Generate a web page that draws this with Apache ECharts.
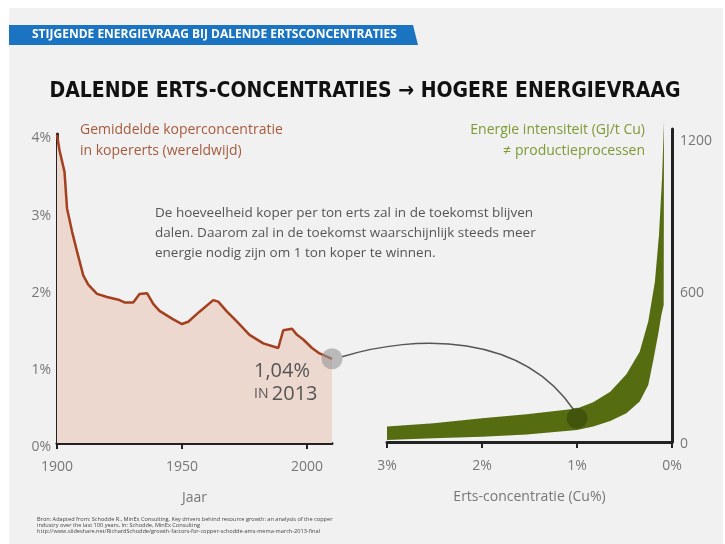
<!DOCTYPE html>
<html>
<head>
<meta charset="utf-8"/>
<script src="https://cdn.jsdelivr.net/npm/echarts@6/dist/echarts.min.js"></script>
<style>
  html, body { margin: 0; padding: 0; background: #fff; }
  #container { width: 725px; height: 544px; }
</style>
</head>
<body>
<div id="container"></div>
<script>
// left chart: average copper ore grade (%) per year
var years = [1900, 1901, 1903, 1904, 1906, 1908, 1910.5, 1912.5, 1916, 1920, 1925, 1927, 1930.5, 1933, 1936,
  1938.5, 1941, 1946.5, 1950, 1952.5, 1957, 1962.5, 1964.5, 1968, 1972, 1977, 1982.5, 1988.5, 1990.5, 1994,
  1996, 1998.5, 2002, 2005, 2010];
var oreGrade = [3.99, 3.79, 3.51, 3.04, 2.74, 2.48, 2.17, 2.05, 1.93, 1.89, 1.85, 1.82, 1.82, 1.93, 1.94,
  1.80, 1.71, 1.60, 1.54, 1.57, 1.70, 1.85, 1.83, 1.70, 1.57, 1.40, 1.29, 1.23, 1.46, 1.48,
  1.40, 1.34, 1.23, 1.16, 1.09];
var yearTicks = [1900, 1950, 2000];
var gradeTicks = [0, 1, 2, 3, 4];

// right chart: energy intensity band (GJ/t Cu) versus ore grade (%)
var upperConc   = [3.0, 2.51, 2.0, 1.53, 1.0, 0.83, 0.65, 0.48, 0.34, 0.25, 0.18, 0.137, 0.105, 0.084];
var upperEnergy = [61, 74, 94, 110, 133, 157, 199, 268, 358, 477, 635, 820, 1044, 1269];
var lowerConc   = [3.0, 2.51, 2.0, 1.53, 1.0, 0.83, 0.65, 0.48, 0.34, 0.25, 0.20, 0.147, 0.112, 0.0875];
var lowerEnergy = [8, 15, 21, 30, 48, 61, 83, 114, 160, 226, 318, 424, 503, 543];
var concTicks = [3, 2, 1, 0];
var energyTicks = [0, 600, 1200];
var markConc = 1.0, markEnergy = 94;

var labelColor = '#777';
var baseFont = '"Open Sans", sans-serif';

var myChart = echarts.init(document.getElementById('container'));

var option = {
  animation: false,
  backgroundColor: '#ffffff',
  textStyle: { fontFamily: baseFont },
  grid: [
    { left: 57, top: 134, width: 275, height: 309 },
    { left: 387, top: 129, width: 285, height: 313 }
  ],
  xAxis: [{
    gridIndex: 0, type: 'value', min: 1900, max: 2010,
    name: 'Jaar', nameLocation: 'middle', nameGap: 48,
    nameTextStyle: { color: labelColor, fontSize: 14, fontFamily: baseFont },
    axisLine: { lineStyle: { color: '#222', width: 3 } },
    axisTick: { show: true, inside: false, length: 6, lineStyle: { color: '#222', width: 2 }, customValues: yearTicks },
    axisLabel: { color: labelColor, fontSize: 14, margin: 17, customValues: yearTicks,
      formatter: function (v) { return String(v); } },
    splitLine: { show: false }
  }, {
    gridIndex: 1, type: 'value', min: 0, max: 3, inverse: true,
    name: 'Erts-concentratie (Cu%)', nameLocation: 'middle', nameGap: 48,
    nameTextStyle: { color: labelColor, fontSize: 14, fontFamily: baseFont },
    axisLine: { lineStyle: { color: '#222', width: 3 } },
    axisTick: { show: true, length: 6, lineStyle: { color: '#222', width: 2 }, customValues: concTicks },
    axisLabel: { color: labelColor, fontSize: 14, margin: 17, customValues: concTicks,
      formatter: function (v) { return v + '%'; } },
    splitLine: { show: false }
  }],
  yAxis: [{
    gridIndex: 0, type: 'value', min: 0, max: 4,
    axisLine: { show: true, lineStyle: { color: '#222', width: 3 } },
    axisTick: { show: false },
    axisLabel: { color: labelColor, fontSize: 14, margin: 6, customValues: gradeTicks,
      formatter: function (v) { return '{p|' + v + '%}'; },
      rich: { p: { color: labelColor, fontSize: 14, fontFamily: baseFont, padding: [9, 0, 0, 0] } } },
    splitLine: { show: false }
  }, {
    gridIndex: 1, type: 'value', min: 0, max: 1240, position: 'right',
    axisLine: { show: true, lineStyle: { color: '#222', width: 3 } },
    axisTick: { show: false },
    axisLabel: { color: labelColor, fontSize: 14, margin: 8, customValues: energyTicks,
      formatter: function (v) { return '{p|' + v + '}'; },
      rich: { p: { color: labelColor, fontSize: 14, fontFamily: baseFont, padding: [4, 0, 0, 0] } } },
    splitLine: { show: false }
  }],
  series: [{
    name: 'koperconcentratie',
    type: 'line',
    xAxisIndex: 0, yAxisIndex: 0,
    data: years.map(function (y, i) { return [y, oreGrade[i]]; }),
    symbol: 'none',
    lineStyle: { color: '#a3401d', width: 2.5 },
    areaStyle: { color: '#ecd8cf', opacity: 1 },
    z: 2
  }, {
    name: 'energieband',
    type: 'custom',
    xAxisIndex: 1, yAxisIndex: 1,
    silent: true,
    data: [[upperConc[0], upperEnergy[0]]],
    renderItem: function (params, api) {
      var pts = [];
      for (var i = 0; i < upperConc.length; i++) pts.push(api.coord([upperConc[i], upperEnergy[i]]));
      for (var j = lowerConc.length - 1; j >= 0; j--) pts.push(api.coord([lowerConc[j], lowerEnergy[j]]));
      return { type: 'polygon', shape: { points: pts }, style: { fill: '#556d10' } };
    },
    z: 2
  }, {
    name: 'punt-links',
    type: 'scatter',
    xAxisIndex: 0, yAxisIndex: 0,
    data: [[years[years.length - 1], oreGrade[oreGrade.length - 1]]],
    symbolSize: 21,
    itemStyle: { color: 'rgba(150,150,150,0.75)' },
    silent: true,
    z: 5
  }, {
    name: 'punt-rechts',
    type: 'scatter',
    xAxisIndex: 1, yAxisIndex: 1,
    data: [[markConc, markEnergy]],
    symbolSize: 21,
    itemStyle: { color: '#3e4f0c' },
    silent: true,
    z: 5
  }],
  graphic: [
    { type: 'rect', z: -10, shape: { x: 9, y: 8, width: 714, height: 536 }, style: { fill: '#f1f1f1' } },
    { type: 'polygon', z: 1, shape: { points: [[9, 25], [413, 25], [418, 45], [9, 45]] }, style: { fill: '#1b74c1' } },
    { type: 'text', z: 2, x: 32, y: 35,
      style: { text: 'STIJGENDE ENERGIEVRAAG BIJ DALENDE ERTSCONCENTRATIES', fill: '#fff',
        font: 'bold 12px "Open Sans", sans-serif', verticalAlign: 'middle' } },
    { type: 'text', z: 2, x: 365, y: 92,
      style: { text: 'DALENDE ERTS-CONCENTRATIES \u2192 HOGERE ENERGIEVRAAG', fill: '#111',
        font: 'bold 21px "DejaVu Sans Condensed", sans-serif', align: 'center', verticalAlign: 'middle' } },
    { type: 'text', z: 10, x: 80, y: 120,
      style: { text: 'Gemiddelde koperconcentratie\nin kopererts (wereldwijd)', fill: '#a65a3c',
        font: '14px "Open Sans", sans-serif', lineHeight: 21 } },
    { type: 'text', z: 10, x: 645, y: 120,
      style: { text: 'Energie intensiteit (GJ/t Cu)\n\u2260 productieprocessen', fill: '#7e9a35',
        font: '14px "Open Sans", sans-serif', lineHeight: 21, align: 'right' } },
    { type: 'text', z: 10, x: 155, y: 203,
      style: { text: 'De hoeveelheid koper per ton erts zal in de toekomst blijven\ndalen. Daarom zal in de toekomst waarschijnlijk steeds meer\nenergie nodig zijn om 1 ton koper te winnen.',
        fill: '#555', font: '13.5px "Open Sans", sans-serif', lineHeight: 20 } },
    { type: 'text', z: 10, x: 254, y: 360,
      style: { text: '{a|1,04%}\n{b|IN} {a|2013}', fill: '#555', lineHeight: 23,
        rich: { a: { fontSize: 20, fill: '#555', fontFamily: baseFont, lineHeight: 23 },
                b: { fontSize: 14, fill: '#555', fontFamily: baseFont, lineHeight: 23 } } } },
    { type: 'text', z: 10, x: 37, y: 516,
      style: { text: 'Bron: Adapted from: Schodde R., MinEx Consulting, Key drivers behind resource growth: an analysis of the copper\nindustry over the last 100 years. In: Schodde, MinEx Consulting\nhttp://www.slideshare.net/RichardSchodde/growth-factors-for-copper-schodde-ams-mema-march-2013-final',
        fill: '#444', font: '5.6px "Open Sans", sans-serif', lineHeight: 6 } }
  ]
};

myChart.setOption(option);

// connector curve between the two dots
var p1 = myChart.convertToPixel({ gridIndex: 0 }, [years[years.length - 1], oreGrade[oreGrade.length - 1]]);
var p2 = myChart.convertToPixel({ gridIndex: 1 }, [markConc, markEnergy]);
myChart.setOption({
  graphic: option.graphic.concat([{
    type: 'bezierCurve', z: 3,
    shape: { x1: p1[0] + 10, y1: p1[1] - 2, cpx1: p1[0] + 85, cpy1: p1[1] - 25,
      cpx2: p2[0] - 55, cpy2: p2[1] - 85, x2: p2[0] - 3, y2: p2[1] - 8 },
    style: { stroke: '#555', lineWidth: 1.5, fill: null }
  }])
});
window.onresize = myChart.resize;
</script>
</body>
</html>
